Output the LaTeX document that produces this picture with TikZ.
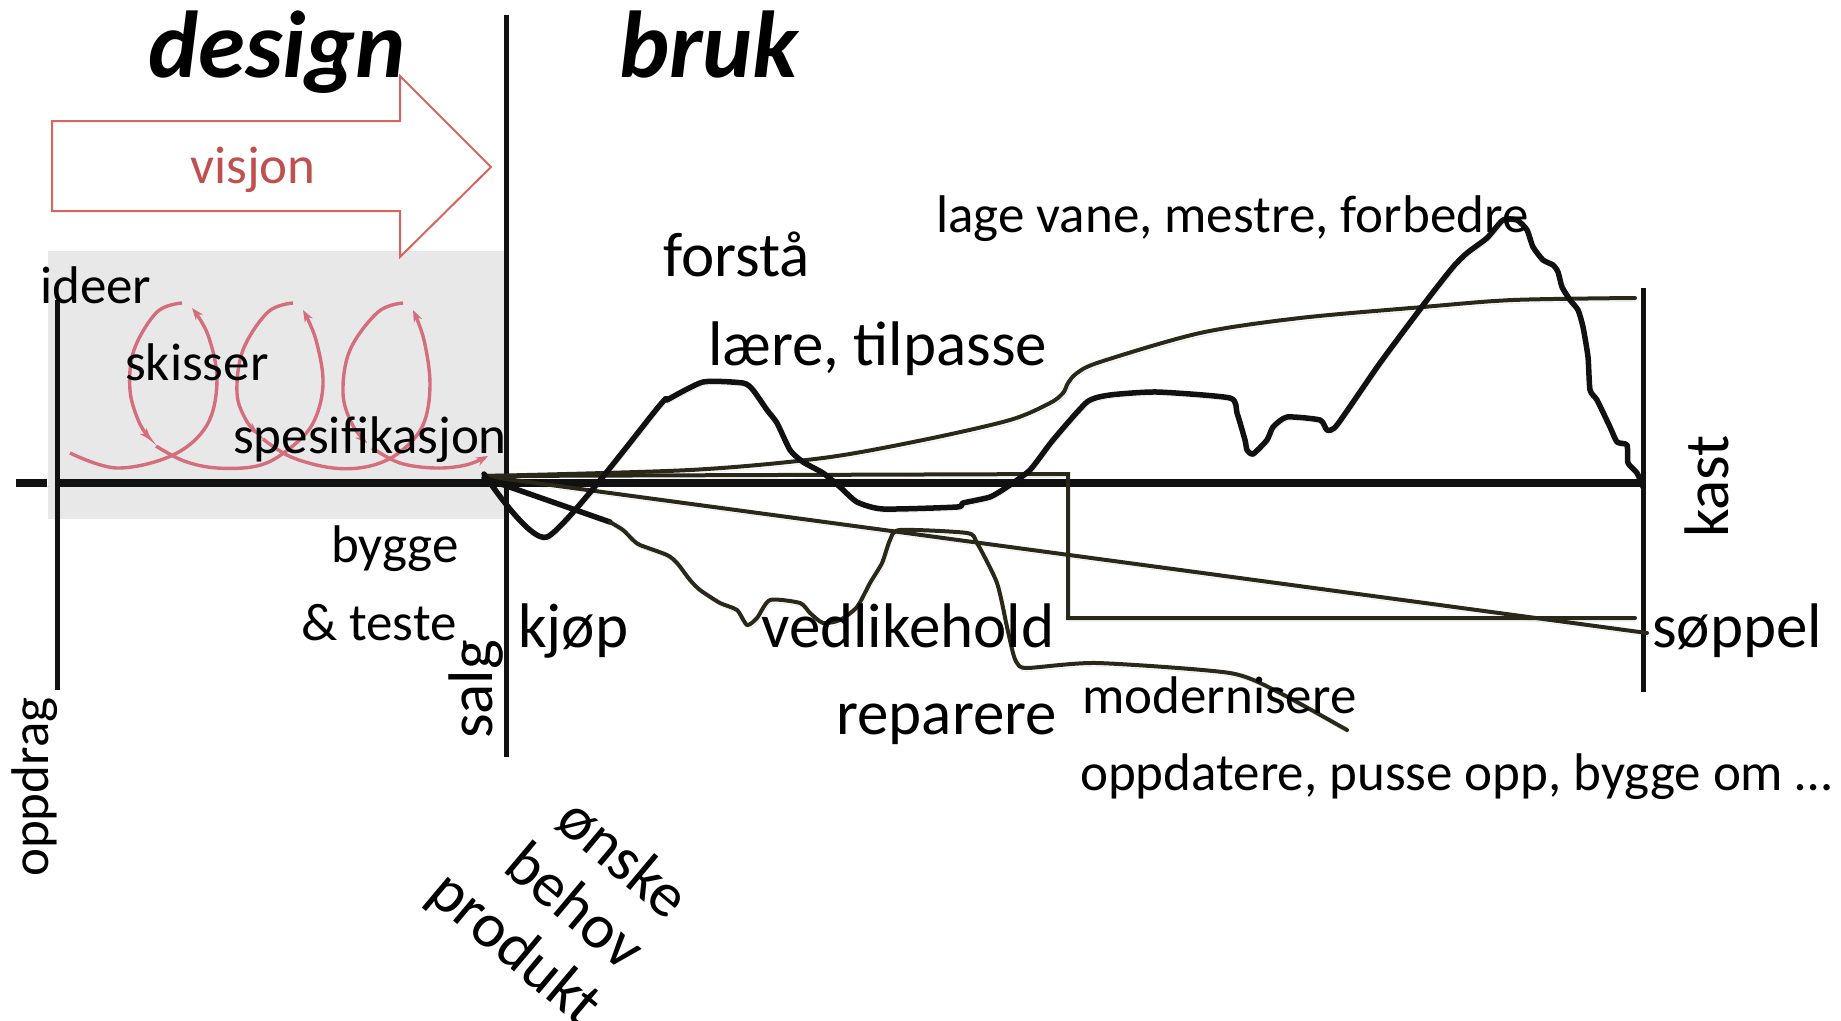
\documentclass[tikz,border=0pt]{standalone}
\usepackage{fontspec}
\setmainfont{Carlito}
\usetikzlibrary{arrows.meta}
\definecolor{ink}{HTML}{111111}
\definecolor{umber}{HTML}{2B2719}
\definecolor{visred}{HTML}{C0504D}
\definecolor{visline}{HTML}{D4665F}
\definecolor{coil}{HTML}{D46E7D}
\definecolor{panel}{HTML}{E8E8E8}
\begin{document}
\begin{tikzpicture}[x=1pt,y=-1pt,
  small/.style={font=\fontsize{53}{60}\selectfont, inner sep=0pt},
  large/.style={font=\fontsize{63}{72}\selectfont, inner sep=0pt},
  heading/.style={font=\fontsize{95}{110}\selectfont\bfseries\itshape, inner sep=0pt},
  shade/.style={preaction={draw=black, draw opacity=0.12, transform canvas={shift={(1.5pt,-3.5pt)}}}},
  axis/.style={line width=8pt, draw=ink, shade},
  rule/.style={line width=5pt, draw=ink},
  curve/.style={line width=5.5pt, draw=ink, line join=round, line cap=round, shade},
  trail/.style={line width=4pt, draw=umber, line join=round, line cap=round, shade},
  coilarrow/.style={line width=3.4pt, draw=coil, -{Stealth[length=12pt,width=9pt]}},
]
\useasboundingbox (0,0) rectangle (1841,1020);

% design phase background
\fill[panel] (48,251) rectangle (505,519);

% vision arrow
\draw[visline, line width=2pt, line join=miter]
  (52,121) -- (400,121) -- (400,76) -- (491,167) -- (400,257) -- (400,211) -- (52,211) -- cycle;
\node[small, text=visred, anchor=base west] (visjon) at (190,183) {visjon};

% iteration coil
\draw[coilarrow] plot[smooth, tension=0.6] coordinates
  {(70,453) (117,468) (173,455) (207,425) (217,380) (208,335) (192,308)};
\draw[coilarrow] plot[smooth, tension=0.6] coordinates
  {(182,303) (157,312) (134,350) (130,390) (139,422) (151,440)};
\draw[coilarrow] plot[smooth, tension=0.6] coordinates
  {(156,446) (184,461) (217,468) (257,466) (285,452) (312,425) (323,385) (316,340) (303,310)};
\draw[coilarrow] plot[smooth, tension=0.6] coordinates
  {(293,303) (268,312) (243,350) (237,393) (246,420) (258,434)};
\draw[coilarrow] plot[smooth, tension=0.6] coordinates
  {(263,439) (291,457) (333,468) (370,466) (400,452) (423,425) (430,385) (424,340) (413,310)};
\draw[coilarrow] plot[smooth, tension=0.6] coordinates
  {(403,303) (378,312) (350,350) (343,393) (352,424) (367,443)};
\draw[coilarrow] plot[smooth, tension=0.6] coordinates
  {(372,448) (400,463) (435,468) (466,465) (488,456)};

% axes and phase borders
\coordinate (ax-l) at (57,483);
\coordinate (ax-r) at (1643,483);
\coordinate (dash-l) at (16,483);
\coordinate (dash-r) at (47,483);
\draw[axis] (ax-l) -- (ax-r);
\draw[axis] (dash-l) -- (dash-r);
\draw[rule] (57,300) -- (57,690);
\draw[rule] (506,15) -- (506,757);
\draw[rule] (1643,288) -- (1643,692);

% paths starting at the sale
\coordinate (start) at (484,476);
\coordinate (trash) at (1647,633);
\draw[trail] (start) -- (trash);
\draw[trail, line join=miter] (start) -- (1068,474) -- (1068,618) -- (1635,618);
\draw[trail] plot[smooth, tension=0.5] coordinates
  {(484,476) (690,470) (823,458) (923,440) (1010,420) (1050,403) (1063,393) (1068,383)
   (1077,373) (1100,362) (1200,333) (1300,318) (1423,307) (1513,300) (1635,298)};
\draw[curve] (484,478) -- (610,522);
\draw[trail] plot[smooth, tension=0.4] coordinates
  {(610,522) (623,530) (633,540) (640,545) (667,555) (677,563) (690,580) (700,590)
   (720,603) (737,610) (747,625) (757,618) (770,600) (800,603) (810,613) (823,623)
   (840,620) (857,607) (870,583) (882,563) (890,540) (900,530) (967,533) (977,543)
   (997,583) (1007,627) (1013,653) (1017,663) (1027,668) (1097,663) (1230,673)
   (1280,693) (1347,730)};
\draw[curve] plot[smooth, tension=0.35] coordinates
  {(484,474) (547,537) (660,405) (667,400) (703,382) (743,383) (753,390) (767,410)
   (777,423) (790,450) (803,462) (823,473) (840,487) (857,502) (883,509) (957,507)
   (963,503) (990,497) (1007,487) (1030,470) (1053,440) (1087,402) (1110,395)
   (1157,392) (1230,398) (1237,413) (1245,440) (1247,450) (1253,454) (1267,440)
   (1273,427) (1287,417) (1320,420) (1327,430) (1337,425) (1380,363) (1427,300)
   (1453,267) (1467,253) (1487,238) (1503,220) (1517,220) (1527,230) (1533,247)
   (1543,260) (1553,265) (1558,272) (1562,287) (1570,300) (1578,310) (1583,327)
   (1588,357) (1590,390) (1597,400) (1610,427) (1617,442) (1627,445) (1628,463)
   (1637,473) (1643,487)};

% headings
\node[heading, anchor=base west] (design) at (148,77) {design};
\node[heading, anchor=base west] (bruk) at (619,77) {bruk};

% design labels
\node[small, anchor=base west] (ideer) at (40,303) {ideer};
\node[small, anchor=base west] (skisser) at (125,380) {skisser};
\node[small, anchor=base west] (spes) at (233,453) {spesifikasjon};
\node[small, anchor=base west] (bygge) at (331,562) {bygge};
\node[small, anchor=base west] (teste) at (301,640) {\& teste};
\node[small, rotate=90, anchor=base west] (oppdrag) at (48,877) {oppdrag};
\node[large, rotate=90, anchor=base west] (salg) at (492,739) {salg};

% use labels
\node[large, anchor=base west] (forstaa) at (663,276) {forstå};
\node[large, anchor=base west] (laere) at (708,365) {lære, tilpasse};
\node[small, anchor=base west] (vane) at (936,232) {lage vane, mestre, forbedre};
\node[large, anchor=base west] (kjop) at (518,647) {kjøp};
\node[large, anchor=base west] (vedl) at (761,647) {vedlikehold};
\node[large, anchor=base west] (rep) at (836,734) {reparere};
\node[small, anchor=base west] (mod) at (1082,713) {modernisere};
\node[small, anchor=base west] (oppd) at (1080,790) {oppdatere, pusse opp, bygge om …};
\node[large, anchor=base west] (soppel) at (1652,647) {søppel};
\node[large, rotate=90, anchor=base west] (kast) at (1728,538) {kast};

% what drives the purchase
\node[large, rotate=-40] (onske) at (624,858) {ønske};
\node[large, rotate=-40] (behov) at (576,905) {behov};
\node[large, rotate=-40] (produkt) at (514,950) {produkt};
\end{tikzpicture}
\end{document}
